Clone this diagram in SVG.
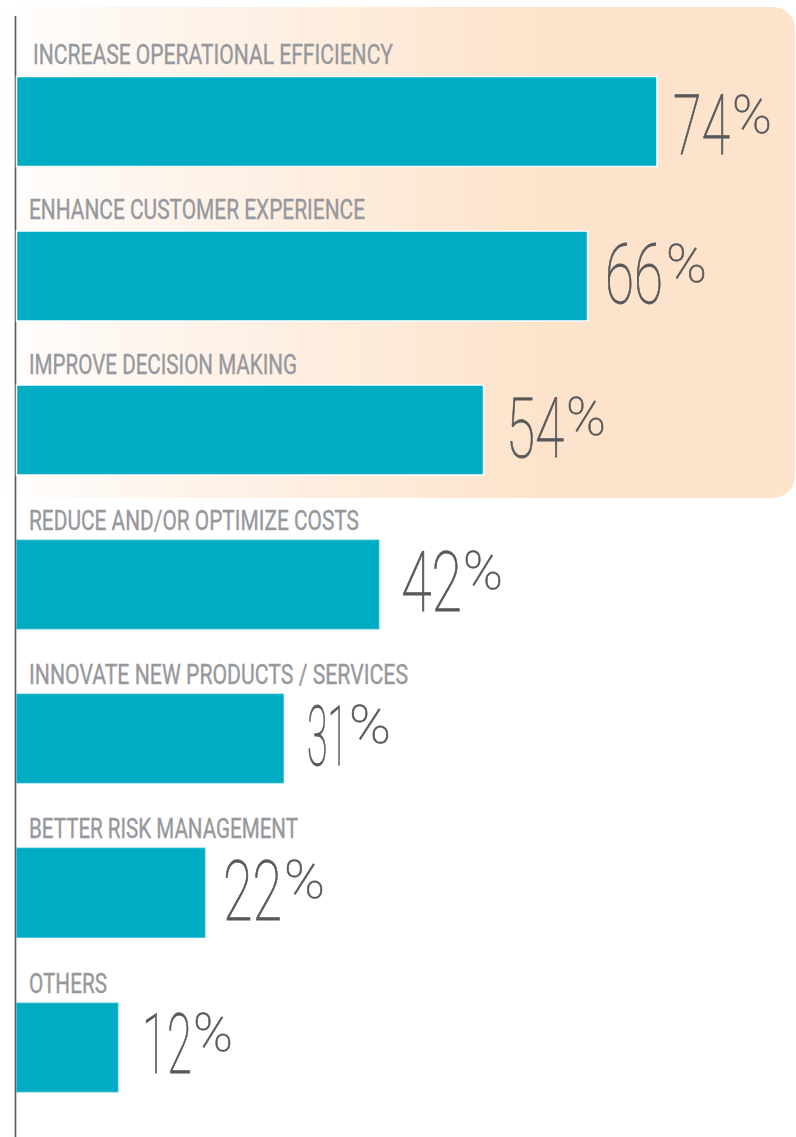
<svg xmlns="http://www.w3.org/2000/svg" width="796" height="1137" viewBox="0 0 796 1137">
<defs>
<linearGradient id="hl" x1="0" y1="0" x2="796" y2="0" gradientUnits="userSpaceOnUse">
<stop offset="0" stop-color="#FFFFFF"/>
<stop offset="0.12" stop-color="#FEF8F3"/>
<stop offset="0.68" stop-color="#FDE3CB"/>
<stop offset="1" stop-color="#FDE3CB"/>
</linearGradient>
</defs>
<style>
.bar{fill:#00ABC4}
.hbar{stroke:#FFFFFF;stroke-width:1.5}
.obar{stroke:#3FC0D3;stroke-width:0.8}
.lbl{font-family:"Roboto","Liberation Sans",sans-serif;font-size:28px;fill:#97989C;font-weight:400;stroke:#97989C;stroke-width:0.4}
.num{font-family:"Roboto","Liberation Sans",sans-serif;font-size:83px;fill:#58595B;font-weight:100;stroke:#58595B;stroke-width:0.9}
.pct{font-size:53px;stroke-width:0.6}
</style>
<rect width="796" height="1137" fill="#FFFFFF"/>
<path id="highlight" d="M0,7 H773 A22,22 0 0 1 795,29 V476 A22,22 0 0 1 773,498 H0 Z" fill="url(#hl)"/>
<line id="axis" x1="15.5" y1="16" x2="15.5" y2="1137" stroke="#555759" stroke-width="1.6"/>

<g id="row1">
<text class="lbl" x="33" y="64" textLength="360" lengthAdjust="spacingAndGlyphs">INCREASE OPERATIONAL EFFICIENCY</text>
<rect class="bar hbar" x="16.5" y="76.5" width="640.5" height="90"/>
<text class="num"><tspan x="673" y="154" textLength="57" lengthAdjust="spacingAndGlyphs">74</tspan><tspan class="pct" x="732" y="133" textLength="40" lengthAdjust="spacingAndGlyphs">%</tspan></text>
</g>
<g id="row2">
<text class="lbl" x="29" y="219" textLength="336" lengthAdjust="spacingAndGlyphs">ENHANCE CUSTOMER EXPERIENCE</text>
<rect class="bar hbar" x="16.5" y="231" width="571" height="90"/>
<text class="num"><tspan x="605" y="303" textLength="58" lengthAdjust="spacingAndGlyphs">66</tspan><tspan class="pct" x="666" y="282" textLength="41" lengthAdjust="spacingAndGlyphs">%</tspan></text>
</g>
<g id="row3">
<text class="lbl" x="29" y="374" textLength="268" lengthAdjust="spacingAndGlyphs">IMPROVE DECISION MAKING</text>
<rect class="bar hbar" x="16.5" y="385" width="467" height="90"/>
<text class="num"><tspan x="506" y="457" textLength="58" lengthAdjust="spacingAndGlyphs">54</tspan><tspan class="pct" x="566" y="435" textLength="40" lengthAdjust="spacingAndGlyphs">%</tspan></text>
</g>
<g id="row4">
<text class="lbl" x="29" y="530" textLength="330" lengthAdjust="spacingAndGlyphs">REDUCE AND/OR OPTIMIZE COSTS</text>
<rect class="bar obar" x="16.5" y="540" width="362.5" height="89"/>
<text class="num"><tspan x="401" y="611" textLength="61" lengthAdjust="spacingAndGlyphs">42</tspan><tspan class="pct" x="463" y="589" textLength="40" lengthAdjust="spacingAndGlyphs">%</tspan></text>
</g>
<g id="row5">
<text class="lbl" x="29" y="684" textLength="379" lengthAdjust="spacingAndGlyphs">INNOVATE NEW PRODUCTS / SERVICES</text>
<rect class="bar obar" x="16.5" y="694" width="267" height="89"/>
<text class="num"><tspan x="307" y="765" textLength="41" lengthAdjust="spacingAndGlyphs">31</tspan><tspan class="pct" x="349" y="743" textLength="42" lengthAdjust="spacingAndGlyphs">%</tspan></text>
</g>
<g id="row6">
<text class="lbl" x="29" y="838" textLength="269" lengthAdjust="spacingAndGlyphs">BETTER RISK MANAGEMENT</text>
<rect class="bar obar" x="16.5" y="848" width="188.5" height="89.5"/>
<text class="num"><tspan x="223" y="920" textLength="59" lengthAdjust="spacingAndGlyphs">22</tspan><tspan class="pct" x="284" y="898" textLength="41" lengthAdjust="spacingAndGlyphs">%</tspan></text>
</g>
<g id="row7">
<text class="lbl" x="29" y="993" textLength="78" lengthAdjust="spacingAndGlyphs">OTHERS</text>
<rect class="bar obar" x="16.5" y="1003" width="101.5" height="89"/>
<text class="num"><tspan x="142" y="1073" textLength="50" lengthAdjust="spacingAndGlyphs">12</tspan><tspan class="pct" x="193" y="1051" textLength="40" lengthAdjust="spacingAndGlyphs">%</tspan></text>
</g>
</svg>
